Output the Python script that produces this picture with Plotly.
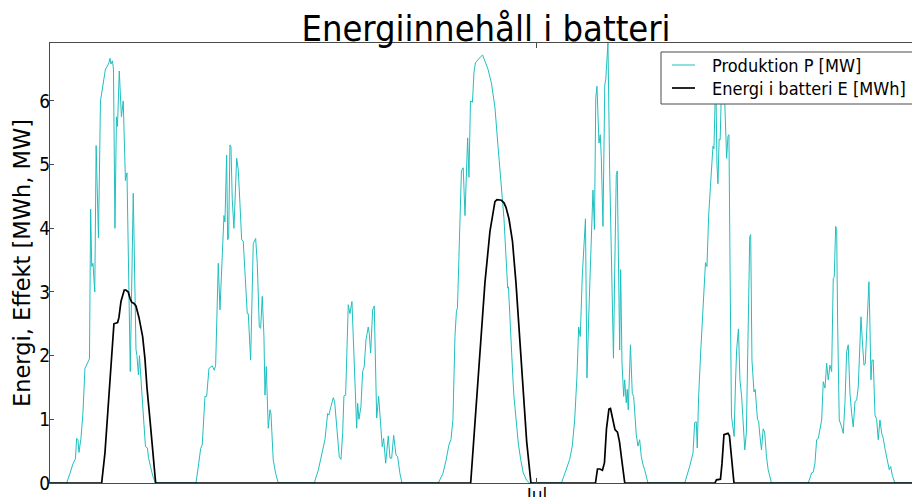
import pandas as pd
import plotly.graph_objects as go

# ---------------------------------------------------------------
# Data: solar park production P [MW] and battery energy E [MWh]
# Each day: hour-of-day of each sample and the value at that time
# ---------------------------------------------------------------
days = ["2015-06-27", "2015-06-28", "2015-06-29", "2015-06-30",
        "2015-07-01", "2015-07-02", "2015-07-03"]

# Produktion P [MW]
prod_h_0627 = [4.46, 5.10, 5.68, 6.17, 6.40, 6.66, 6.85, 7.24, 7.63, 8.02, 8.51, 8.90, 9.13, 9.34,
               9.58, 9.93, 10.20, 10.65, 11.04, 11.52, 12.01, 12.40, 12.69, 12.89, 13.08, 13.37,
               13.57, 13.86, 14.15, 14.35, 14.70, 15.12, 15.47, 15.90, 16.20, 16.84, 17.42, 17.95,
               18.14, 18.43, 18.63, 19.11, 19.80, 20.18, 20.38, 20.77, 21.26, 21.74]
prod_p_0627 = [0.0, 0.15, 0.30, 0.38, 0.70, 0.68, 0.48, 0.70, 1.10, 1.80, 1.90, 1.95, 4.30, 3.40,
               3.45, 3.00, 5.30, 3.85, 6.00, 6.25, 6.50, 6.55, 6.60, 6.67, 6.58, 6.63,
               6.50, 4.00, 5.75, 5.60, 6.47, 5.75, 6.00, 4.75, 4.87, 1.75, 4.55, 2.10,
               2.00, 1.70, 2.00, 1.40, 0.57, 0.55, 0.40, 0.26, 0.10, 0.0]

prod_h_0628 = [5.63, 6.07, 6.54, 6.85, 7.38, 7.71, 8.16, 8.80, 9.19, 9.46, 9.97, 10.30, 10.82, 11.08,
               11.27, 11.60, 11.80, 11.99, 12.24, 12.44, 12.69, 13.02, 13.55, 13.86, 14.19, 14.52,
               14.83, 15.30, 15.61, 15.81, 16.27, 16.78, 17.25, 17.56, 17.95, 18.22, 18.53, 18.86,
               19.06, 19.31, 19.70, 20.03, 20.22, 20.67, 21.14, 21.65]
prod_p_0628 = [0.0, 0.25, 0.54, 0.60, 1.36, 1.36, 1.80, 1.84, 1.77, 1.85, 3.45, 2.72, 3.92, 4.20,
               4.10, 5.15, 3.82, 3.84, 5.31, 5.28, 4.45, 4.00, 5.10, 4.92, 4.39, 3.82,
               3.80, 2.98, 2.66, 2.66, 1.93, 3.76, 3.84, 3.45, 2.45, 2.43, 2.93, 2.30,
               1.38, 1.83, 0.86, 1.15, 1.10, 0.36, 0.15, 0.0]

prod_h_0629 = [4.65, 5.43, 6.09, 6.73, 7.26, 7.51, 7.90, 8.35, 8.62, 9.01, 9.52, 9.85, 10.18, 10.43,
               10.76, 11.27, 11.60, 11.99, 12.44, 12.91, 13.10, 13.35, 13.74, 14.07, 14.38, 14.72,
               15.16, 15.36, 15.63, 16.02, 16.33, 16.80, 17.19, 17.50, 17.89, 18.16, 18.55, 19.06,
               19.39, 19.72, 20.11, 20.56, 20.89, 21.33, 21.72]
prod_p_0629 = [0.0, 0.20, 0.44, 0.68, 1.09, 1.07, 1.20, 1.34, 1.28, 0.86, 0.41, 0.37, 0.78, 1.37,
               1.38, 2.80, 2.66, 2.85, 1.83, 0.86, 1.25, 1.00, 1.20, 1.75, 1.83, 2.25,
               2.45, 2.35, 2.04, 2.72, 2.78, 1.02, 1.36, 0.96, 0.57, 0.70, 0.31, 0.74,
               0.39, 0.39, 0.75, 0.44, 0.41, 0.15, 0.0]

prod_h_0630 = [4.79, 5.70, 6.29, 6.87, 7.26, 7.65, 8.04, 8.33, 8.53, 8.82, 9.01, 9.30, 9.65, 9.99,
               10.51, 10.76, 11.06, 11.45, 11.74, 12.03, 12.61, 13.10, 13.43, 13.88, 14.46, 15.14,
               15.82, 16.41, 17.09, 17.58, 17.97, 18.30, 18.45, 18.61, 18.94, 19.19, 19.33, 19.52,
               19.91, 20.36, 20.83, 21.33, 22.00, 22.54]
prod_p_0630 = [0.0, 0.15, 0.35, 0.60, 0.68, 1.00, 2.30, 2.70, 2.75, 3.90, 4.10, 4.90, 4.95, 4.20,
               5.42, 4.80, 6.00, 5.98, 6.45, 6.60, 6.66, 6.70, 6.72, 6.62, 6.50, 6.28,
               5.90, 5.30, 4.70, 4.15, 3.56, 3.06, 3.08, 2.77, 2.20, 1.65, 1.63, 1.36,
               1.00, 0.63, 0.37, 0.16, 0.04, 0.0]

prod_h_0701 = [4.77, 5.70, 6.37, 6.87, 7.34, 7.79, 8.12, 8.43, 8.82, 9.44, 9.73, 10.12, 10.57, 10.90,
               11.19, 11.45, 11.68, 12.07, 12.32, 12.52, 12.85, 13.20, 13.39, 13.63, 13.82, 14.15,
               14.54, 14.89, 15.12, 15.44, 15.63, 15.90, 16.10, 16.29, 16.55, 16.88, 17.07, 17.38,
               17.58, 17.77, 18.20, 18.55, 18.82, 19.33, 19.66, 19.99, 20.30, 20.63, 20.96, 21.61]
prod_p_0701 = [0.0, 0.21, 0.37, 0.58, 0.99, 1.68, 2.45, 2.30, 3.25, 4.15, 1.65, 2.72, 3.98, 4.60,
               3.98, 6.05, 6.23, 5.34, 5.47, 5.13, 4.03, 6.25, 6.34, 6.75, 6.91, 4.92,
               3.09, 1.96, 3.25, 4.84, 4.90, 3.09, 2.09, 3.35, 1.90, 1.36, 1.62, 1.26,
               1.47, 1.15, 2.17, 1.41, 1.36, 0.76, 0.58, 0.68, 0.42, 0.29, 0.21, 0.0]

prod_h_0702 = [4.77, 5.72, 6.37, 6.70, 7.01, 7.20, 7.47, 7.86, 8.31, 8.80, 9.09, 9.42, 9.77, 9.93,
               10.26, 10.45, 10.65, 10.80, 11.04, 11.23, 11.46, 11.66, 11.91, 12.11, 12.40, 12.73,
               12.92, 13.18, 13.37, 13.57, 13.86, 14.19, 14.38, 14.64, 14.87, 15.22, 15.51, 15.84,
               16.10, 16.45, 16.76, 17.09, 17.42, 17.60, 17.85, 18.24, 18.49, 18.92, 19.15, 19.41,
               19.70, 20.03, 20.32, 20.67, 21.00, 21.65]
prod_p_0702 = [0.0, 0.26, 0.47, 0.95, 0.96, 0.55, 1.36, 2.04, 2.72, 3.46, 3.40, 4.19, 4.66, 4.82,
               5.29, 5.25, 5.97, 6.40, 5.00, 4.70, 5.40, 5.39, 6.20, 5.95, 6.35, 5.29,
               5.10, 5.45, 5.47, 3.50, 1.05, 0.85, 0.73, 1.57, 2.09, 2.42, 1.62, 1.36,
               1.02, 0.52, 0.80, 2.28, 3.87, 3.90, 1.93, 1.43, 1.47, 1.00, 0.97, 0.73,
               0.52, 0.85, 0.80, 0.42, 0.21, 0.0]

prod_h_0703 = [4.81, 5.47, 5.78, 6.11, 6.44, 6.75, 7.09, 7.42, 7.73, 8.06, 8.39, 8.70, 9.03, 9.36,
               9.67, 9.87, 10.14, 10.34, 10.53, 10.84, 11.31, 11.62, 11.95, 12.28, 12.59, 12.92,
               13.26, 13.57, 13.90, 14.23, 14.54, 14.87, 15.07, 15.32, 15.65, 15.90, 16.18, 16.37,
               16.62, 16.82, 17.01, 17.21, 17.46, 17.79, 18.12, 18.43, 18.76, 19.10, 19.41, 19.74,
               20.19, 20.57, 20.85, 21.16, 21.68]
prod_p_0703 = [0.0, 0.16, 0.17, 0.31, 0.68, 0.70, 0.88, 0.99, 1.59, 1.49, 1.88, 1.62, 1.85, 1.75,
               3.21, 3.24, 4.03, 3.98, 2.46, 0.99, 0.88, 0.78, 1.25, 2.06, 2.17, 1.41,
               1.09, 0.88, 1.28, 1.30, 1.51, 2.30, 2.61, 2.25, 1.85, 1.87, 2.35, 2.72,
               3.16, 2.46, 1.62, 1.93, 1.93, 1.07, 1.00, 0.68, 0.99, 0.78, 0.70, 0.54,
               0.36, 0.21, 0.26, 0.12, 0.0]

# Energi i batteri E [MWh] (battery empty on the remaining days)
batt_h_0627 = [11.27, 11.91, 12.55, 13.08, 13.66, 14.38, 14.64, 15.03, 15.32, 15.67, 16.00, 16.45,
               16.78, 17.11, 17.56, 17.95, 18.53, 19.25, 19.70, 20.09, 20.67, 21.16, 21.78]
batt_e_0627 = [0.0, 0.47, 1.20, 1.88, 2.50, 2.52, 2.60, 2.85, 2.95, 3.03, 3.03, 3.00,
               2.90, 2.84, 2.82, 2.78, 2.60, 2.30, 1.95, 1.50, 1.00, 0.55, 0.0]

batt_h_0630 = [11.10, 11.93, 12.91, 13.88, 14.85, 15.82, 16.21, 17.09, 17.58, 17.97, 18.55, 19.23,
               19.91, 20.59, 21.33, 22.00, 22.83]
batt_e_0630 = [0.0, 0.90, 2.10, 3.15, 3.95, 4.42, 4.45, 4.44, 4.40, 4.33, 4.15, 3.80,
               3.15, 2.30, 1.40, 0.65, 0.0]

batt_h_0701 = [11.39, 11.78, 12.26, 12.75, 13.14, 13.53, 14.01, 14.31, 14.70, 15.18, 15.67, 16.06,
               16.45, 16.84, 17.09]
batt_e_0701 = [0.0, 0.22, 0.22, 0.20, 0.32, 0.85, 1.16, 1.17, 1.00, 0.84, 0.80, 0.65,
               0.40, 0.12, 0.0]

batt_h_0702 = [10.65, 10.94, 11.72, 12.01, 12.40, 13.18, 13.47, 13.76, 14.15, 14.35]
batt_e_0702 = [0.0, 0.05, 0.06, 0.30, 0.76, 0.78, 0.74, 0.45, 0.10, 0.0]

# Night-time values at the ends of the period
period_start, period_end = "2015-06-27 00:00", "2015-07-04 06:00"
night_value = 0.0

# Axis settings
x_range = ["2015-06-27 01:13", "2015-07-04 01:00"]
x_tick_vals = ["2015-07-01"]
x_tick_text = ["Jul"]
y_tick_vals = [0, 1, 2, 3, 4, 5, 6]
y_max = 6.91

series_names = ["Produktion P [MW]", "Energi i batteri E [MWh]"]
series_colors = ["#1fbfbf", "black"]
series_widths = [1, 1.7]


def build_series(day_parts):
    """Join (day, hours, values) parts into one time series with zeros at night."""
    times = [pd.Timestamp(period_start)]
    vals = [night_value]
    for day, hours, values in day_parts:
        base = pd.Timestamp(day)
        times += [base + pd.Timedelta(hours=h) for h in hours]
        vals += list(values)
    times.append(pd.Timestamp(period_end))
    vals.append(night_value)
    return times, vals


prod_t, prod_v = build_series([
    (days[0], prod_h_0627, prod_p_0627),
    (days[1], prod_h_0628, prod_p_0628),
    (days[2], prod_h_0629, prod_p_0629),
    (days[3], prod_h_0630, prod_p_0630),
    (days[4], prod_h_0701, prod_p_0701),
    (days[5], prod_h_0702, prod_p_0702),
    (days[6], prod_h_0703, prod_p_0703),
])
batt_t, batt_v = build_series([
    (days[0], batt_h_0627, batt_e_0627),
    (days[3], batt_h_0630, batt_e_0630),
    (days[4], batt_h_0701, batt_e_0701),
    (days[5], batt_h_0702, batt_e_0702),
])

NARROW = "DejaVu Sans Condensed, Liberation Sans Narrow, DejaVu Sans, sans-serif"
FRAME = "#4a4a4a"

# Figure geometry (pixels) used to place the legend box and the axis title
W, H = 912, 497
ML, MT, MB = 50, 43, 14
PW, PH = W - ML, H - MT - MB


def px_x(p):
    return (p - ML) / PW


def px_y(p):
    return (H - MB - p) / PH


fig = go.Figure()
for (t, v), name, color, width in zip([(prod_t, prod_v), (batt_t, batt_v)],
                                      series_names, series_colors, series_widths):
    fig.add_trace(go.Scatter(x=t, y=v, mode="lines", name=name, showlegend=False,
                             line=dict(color=color, width=width)))

# Legend box drawn on top of the curves, upper right corner
shapes = [dict(type="rect", xref="paper", yref="paper", layer="above",
               x0=px_x(661), x1=px_x(925), y0=px_y(104), y1=px_y(52),
               fillcolor="white", line=dict(color=FRAME, width=1))]
annotations = []
for i, (name, color, width) in enumerate(zip(series_names, series_colors, series_widths)):
    yc = 65 + 23 * i
    shapes.append(dict(type="line", xref="paper", yref="paper", layer="above",
                       x0=px_x(672), x1=px_x(695), y0=px_y(yc), y1=px_y(yc),
                       line=dict(color=color, width=width)))
    annotations.append(dict(text=name, xref="paper", yref="paper", x=px_x(710), y=px_y(yc),
                            xanchor="left", yanchor="middle", showarrow=False,
                            font=dict(family=NARROW, size=18, color="black")))

# Y-axis title
annotations.append(dict(text="Energi, Effekt [MWh, MW]", xref="paper", yref="paper",
                        x=px_x(22), y=px_y(263), xanchor="center", yanchor="middle",
                        textangle=-90, showarrow=False,
                        font=dict(family="DejaVu Sans", size=22.5, color="black")))

fig.update_layout(
    width=W, height=H,
    margin=dict(l=ML, r=0, t=MT, b=MB, autoexpand=False),
    paper_bgcolor="white", plot_bgcolor="white",
    title=dict(text="Energiinnehåll i batteri", x=486 / W, xanchor="center",
               xref="container", y=1 - 41 / H, yanchor="bottom", yref="container",
               font=dict(family=NARROW, size=36, color="black")),
    showlegend=False,
    shapes=shapes,
    annotations=annotations,
)
fig.update_xaxes(type="date", range=x_range, tickvals=x_tick_vals, ticktext=x_tick_text,
                 automargin=False, ticklabelstandoff=-5,
                 showgrid=False, zeroline=False, showline=True, linecolor=FRAME, linewidth=1,
                 mirror="ticks", ticks="inside", ticklen=5, tickcolor=FRAME,
                 tickfont=dict(family=NARROW, size=19, color="black"))
fig.update_yaxes(range=[0, y_max], tickvals=y_tick_vals, automargin=False,
                 ticklabelstandoff=-5,
                 showgrid=False, zeroline=False,
                 showline=True, linecolor=FRAME, linewidth=1, ticks="inside", ticklen=4,
                 tickcolor=FRAME,
                 tickfont=dict(family=NARROW, size=19, color="black"))

fig.write_html("out.html")
